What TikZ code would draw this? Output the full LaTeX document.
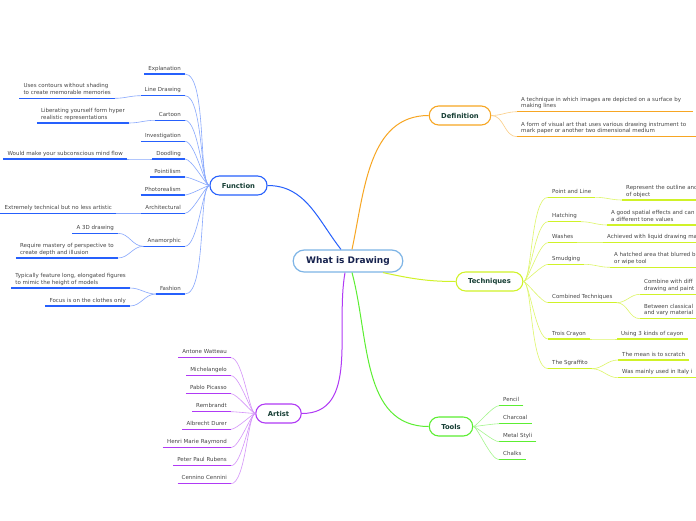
\documentclass[tikz,border=0pt]{standalone}
\usepackage{fontspec}
\setmainfont{DejaVu Sans}
\usepackage{xcolor}
\definecolor{funcblue}{RGB}{38,96,252}
\definecolor{defnorange}{RGB}{247,166,35}
\definecolor{techlime}{RGB}{208,242,40}
\definecolor{toolgreen}{RGB}{92,238,50}
\definecolor{artpurple}{RGB}{176,58,245}
\definecolor{rootblue}{RGB}{125,180,230}
\definecolor{rootink}{RGB}{22,34,78}
\definecolor{branchink}{RGB}{22,62,52}
\definecolor{leafink}{RGB}{70,70,70}
\usepackage{tikz}
\usetikzlibrary{positioning, calc}

\begin{document}
\begin{tikzpicture}[x=1pt, y=1pt,
        root/.style={rectangle, rounded corners=11pt, draw=rootblue, line width=1.2pt, fill=white, minimum height=22pt, inner xsep=13pt, font={\fontsize{9}{11}\selectfont\bfseries}, text=rootink},
        branch/.style={rectangle, rounded corners=9.5pt, line width=1.1pt, fill=white, minimum height=19pt, inner xsep=12pt, font={\fontsize{6.8}{8}\selectfont\bfseries}, text=branchink},
        leaf/.style={inner xsep=4pt, inner ysep=0pt, text depth=3.7pt, align=left, font={\fontsize{5.5}{6.6}\selectfont}, text=leafink},
        lleaf/.style={leaf, anchor=south east},
        rleaf/.style={leaf, anchor=south west},
        fline/.style={line width=1.5pt, funcblue},
        dline/.style={line width=1.5pt, defnorange},
        tline/.style={line width=1.5pt, techlime},
        oline/.style={line width=1.5pt, toolgreen},
        aline/.style={line width=1.5pt, artpurple},
        flink/.style={line width=0.6pt, funcblue!55, out=0, in=180, out looseness=0.5, in looseness=0.25},
        fsub/.style={line width=0.6pt, funcblue!55, out=0, in=180},
        dlink/.style={line width=0.6pt, defnorange!55, out=180, in=0},
        tlink/.style={line width=0.6pt, techlime!70, out=180, in=0, out looseness=0.5, in looseness=0.25},
        tsub/.style={line width=0.6pt, techlime!70, out=180, in=0},
        olink/.style={line width=0.6pt, toolgreen!55, out=180, in=0, out looseness=0.5, in looseness=0.25},
        alink/.style={line width=0.6pt, artpurple!55, out=0, in=180, out looseness=0.5, in looseness=0.25},
        stem/.style={line width=1pt}
    ]
        \useasboundingbox[fill=white] (0,0) rectangle (696,-520);

        \node[root] (root) at (348,-261) {What is Drawing};
        \node[branch, draw=funcblue] (func) at (238.5,-185.5) {Function};
        \node[branch, draw=defnorange] (defn) at (460,-115.5) {Definition};
        \node[branch, draw=techlime] (tech) at (489.5,-281.5) {Techniques};
        \node[branch, draw=toolgreen] (tools) at (451,-426.5) {Tools};
        \node[branch, draw=artpurple] (artist) at (278.5,-413.5) {Artist};

        % function
        \node[lleaf] (expl) at (185,-74) {Explanation};
        \node[lleaf] (linedraw) at (185,-95.7) {Line Drawing};
        \node[lleaf] (contours) at (115,-98.3) {Uses contours without shading\\to create memorable memories};
        \node[lleaf] (cartoon) at (185,-120.3) {Cartoon};
        \node[lleaf] (liberate) at (129,-123) {Liberating yourself form hyper\\realistic representations};
        \node[lleaf] (invest) at (185,-141.3) {Investigation};
        \node[lleaf] (doodle) at (185,-159) {Doodling};
        \node[lleaf] (mindflow) at (127,-159) {Would make your subconscious mind flow};
        \node[lleaf] (pointil) at (185,-177) {Pointilism};
        \node[lleaf] (photoreal) at (185,-195) {Photorealism};
        \node[lleaf] (archi) at (185,-213.3) {Architectural};
        \node[lleaf] (technical) at (116,-213.3) {Extremely technical but no less artistic};
        \node[lleaf] (anamorph) at (185,-246.3) {Anamorphic};
        \node[lleaf] (threed) at (118,-233.3) {A 3D drawing};
        \node[lleaf] (mastery) at (118,-258) {Require mastery of perspective to\\create depth and illusion};
        \node[lleaf] (fashion) at (185,-294) {Fashion};
        \node[lleaf] (elongated) at (130,-288) {Typically feature long, elongated figures\\to mimic the height of models};
        \node[lleaf] (clothes) at (130,-306) {Focus is on the clothes only};

        % definition
        \node[rleaf] (surface) at (517,-111.7) {A technique in which images are depicted on a surface by\\making lines};
        \node[rleaf] (visualart) at (517,-136.7) {A form of visual art that uses various drawing instrument to\\mark paper or another two dimensional medium};

        % techniques
        \node[rleaf] (pointline) at (548,-197.3) {Point and Line};
        \node[rleaf] (outline) at (622,-200) {Represent the outline and\\of object};
        \node[rleaf] (hatching) at (548,-221.7) {Hatching};
        \node[rleaf] (spatial) at (607,-225) {A good spatial effects and can\\a different tone values};
        \node[rleaf] (washes) at (548,-242.7) {Washes};
        \node[rleaf] (liquid) at (603,-242.7) {Achieved with liquid drawing ma};
        \node[rleaf] (smudging) at (548,-264.3) {Smudging};
        \node[rleaf] (blurred) at (610,-267.3) {A hatched area that blurred b\\or wipe tool};
        \node[rleaf] (combined) at (548,-302.7) {Combined Techniques};
        \node[rleaf] (combine) at (640,-294.3) {Combine with diff\\drawing and paint};
        \node[rleaf] (classical) at (640,-318.7) {Between classical\\and vary material};
        \node[rleaf] (trois) at (548,-339) {Trois Crayon};
        \node[rleaf] (cayon) at (617,-339) {Using 3 kinds of cayon};
        \node[rleaf] (sgraffito) at (548,-368.7) {The Sgraffito};
        \node[rleaf] (scratch) at (618,-360) {The mean is to scratch};
        \node[rleaf] (italy) at (618,-377.7) {Was mainly used in Italy i};

        % tools
        \node[rleaf] (pencil) at (499,-405.7) {Pencil};
        \node[rleaf] (charcoal) at (499,-423.7) {Charcoal};
        \node[rleaf] (styli) at (499,-441.7) {Metal Styli};
        \node[rleaf] (chalks) at (499,-459.7) {Chalks};

        % artist
        \node[lleaf] (watteau) at (231,-357.7) {Antone Watteau};
        \node[lleaf] (michelangelo) at (231,-375.7) {Michelangelo};
        \node[lleaf] (picasso) at (231,-393.7) {Pablo Picasso};
        \node[lleaf] (rembrandt) at (231,-411.7) {Rembrandt};
        \node[lleaf] (durer) at (231,-429.3) {Albrecht Durer};
        \node[lleaf] (raymond) at (231,-447.7) {Henri Marie Raymond};
        \node[lleaf] (rubens) at (231,-465.7) {Peter Paul Rubens};
        \node[lleaf] (cennini) at (231,-483.7) {Cennino Cennini};

        \draw[stem, funcblue] ([xshift=-7pt]root.north) to[out=128, in=0] (func.east);
        \draw[stem, defnorange] ([xshift=4pt]root.north) to[out=78, in=180] (defn.west);
        \draw[stem, techlime] ([xshift=35pt]root.south) to[out=-12, in=180] (tech.west);
        \draw[stem, toolgreen] ([xshift=4pt]root.south) to[out=-75, in=180] (tools.west);
        \draw[stem, artpurple] ([xshift=-3pt]root.south) to[out=-100, in=0] (artist.east);

        \draw[fline] (expl.south west) -- (expl.south east) edge[flink] (func.west);
        \draw[fline] (linedraw.south west) -- (linedraw.south east) edge[flink] (func.west);
        \draw[fline] (contours.south west) -- (contours.south east) edge[fsub] (linedraw.south west);
        \draw[fline] (cartoon.south west) -- (cartoon.south east) edge[flink] (func.west);
        \draw[fline] (liberate.south west) -- (liberate.south east) edge[fsub] (cartoon.south west);
        \draw[fline] (invest.south west) -- (invest.south east) edge[flink] (func.west);
        \draw[fline] (doodle.south west) -- (doodle.south east) edge[flink] (func.west);
        \draw[fline] (mindflow.south west) -- (mindflow.south east) edge[fsub] (doodle.south west);
        \draw[fline] (pointil.south west) -- (pointil.south east) edge[flink] (func.west);
        \draw[fline] (photoreal.south west) -- (photoreal.south east) edge[flink] (func.west);
        \draw[fline] (archi.south west) -- (archi.south east) edge[flink] (func.west);
        \draw[fline] (technical.south west) -- (technical.south east) edge[fsub] (archi.south west);
        \draw[fline] (anamorph.south west) -- (anamorph.south east) edge[flink] (func.west);
        \draw[fline] (threed.south west) -- (threed.south east) edge[fsub] (anamorph.south west);
        \draw[fline] (mastery.south west) -- (mastery.south east) edge[fsub] (anamorph.south west);
        \draw[fline] (fashion.south west) -- (fashion.south east) edge[flink] (func.west);
        \draw[fline] (elongated.south west) -- (elongated.south east) edge[fsub] (fashion.south west);
        \draw[fline] (clothes.south west) -- (clothes.south east) edge[fsub] (fashion.south west);

        \draw[dline] ([xshift=8pt]surface.south east) -- (surface.south west) edge[dlink] (defn.east);
        \draw[dline] ([xshift=8pt]visualart.south east) -- (visualart.south west) edge[dlink] (defn.east);

        \draw[tline] (pointline.south east) -- (pointline.south west) edge[tlink] (tech.east);
        \draw[tline] ([xshift=6pt]outline.south east) -- (outline.south west) edge[tsub] (pointline.south east);
        \draw[tline] (hatching.south east) -- (hatching.south west) edge[tlink] (tech.east);
        \draw[tline] ([xshift=6pt]spatial.south east) -- (spatial.south west) edge[tsub] (hatching.south east);
        \draw[tline] (washes.south east) -- (washes.south west) edge[tlink] (tech.east);
        \draw[tline] ([xshift=6pt]liquid.south east) -- (liquid.south west) edge[tsub] (washes.south east);
        \draw[tline] (smudging.south east) -- (smudging.south west) edge[tlink] (tech.east);
        \draw[tline] ([xshift=6pt]blurred.south east) -- (blurred.south west) edge[tsub] (smudging.south east);
        \draw[tline] (combined.south east) -- (combined.south west) edge[tlink] (tech.east);
        \draw[tline] ([xshift=6pt]combine.south east) -- (combine.south west) edge[tsub] (combined.south east);
        \draw[tline] ([xshift=6pt]classical.south east) -- (classical.south west) edge[tsub] (combined.south east);
        \draw[tline] (trois.south east) -- (trois.south west) edge[tlink] (tech.east);
        \draw[tline] (cayon.south east) -- (cayon.south west) edge[tsub] (trois.south east);
        \draw[tline] (sgraffito.south east) -- (sgraffito.south west) edge[tlink] (tech.east);
        \draw[tline] (scratch.south east) -- (scratch.south west) edge[tsub] (sgraffito.south east);
        \draw[tline] ([xshift=6pt]italy.south east) -- (italy.south west) edge[tsub] (sgraffito.south east);

        \draw[oline] (pencil.south east) -- (pencil.south west) edge[olink] (tools.east);
        \draw[oline] (charcoal.south east) -- (charcoal.south west) edge[olink] (tools.east);
        \draw[oline] (styli.south east) -- (styli.south west) edge[olink] (tools.east);
        \draw[oline] (chalks.south east) -- (chalks.south west) edge[olink] (tools.east);

        \draw[aline] (watteau.south west) -- (watteau.south east) edge[alink] (artist.west);
        \draw[aline] (michelangelo.south west) -- (michelangelo.south east) edge[alink] (artist.west);
        \draw[aline] (picasso.south west) -- (picasso.south east) edge[alink] (artist.west);
        \draw[aline] (rembrandt.south west) -- (rembrandt.south east) edge[alink] (artist.west);
        \draw[aline] (durer.south west) -- (durer.south east) edge[alink] (artist.west);
        \draw[aline] (raymond.south west) -- (raymond.south east) edge[alink] (artist.west);
        \draw[aline] (rubens.south west) -- (rubens.south east) edge[alink] (artist.west);
        \draw[aline] (cennini.south west) -- (cennini.south east) edge[alink] (artist.west);
    \end{tikzpicture}
\end{document}
